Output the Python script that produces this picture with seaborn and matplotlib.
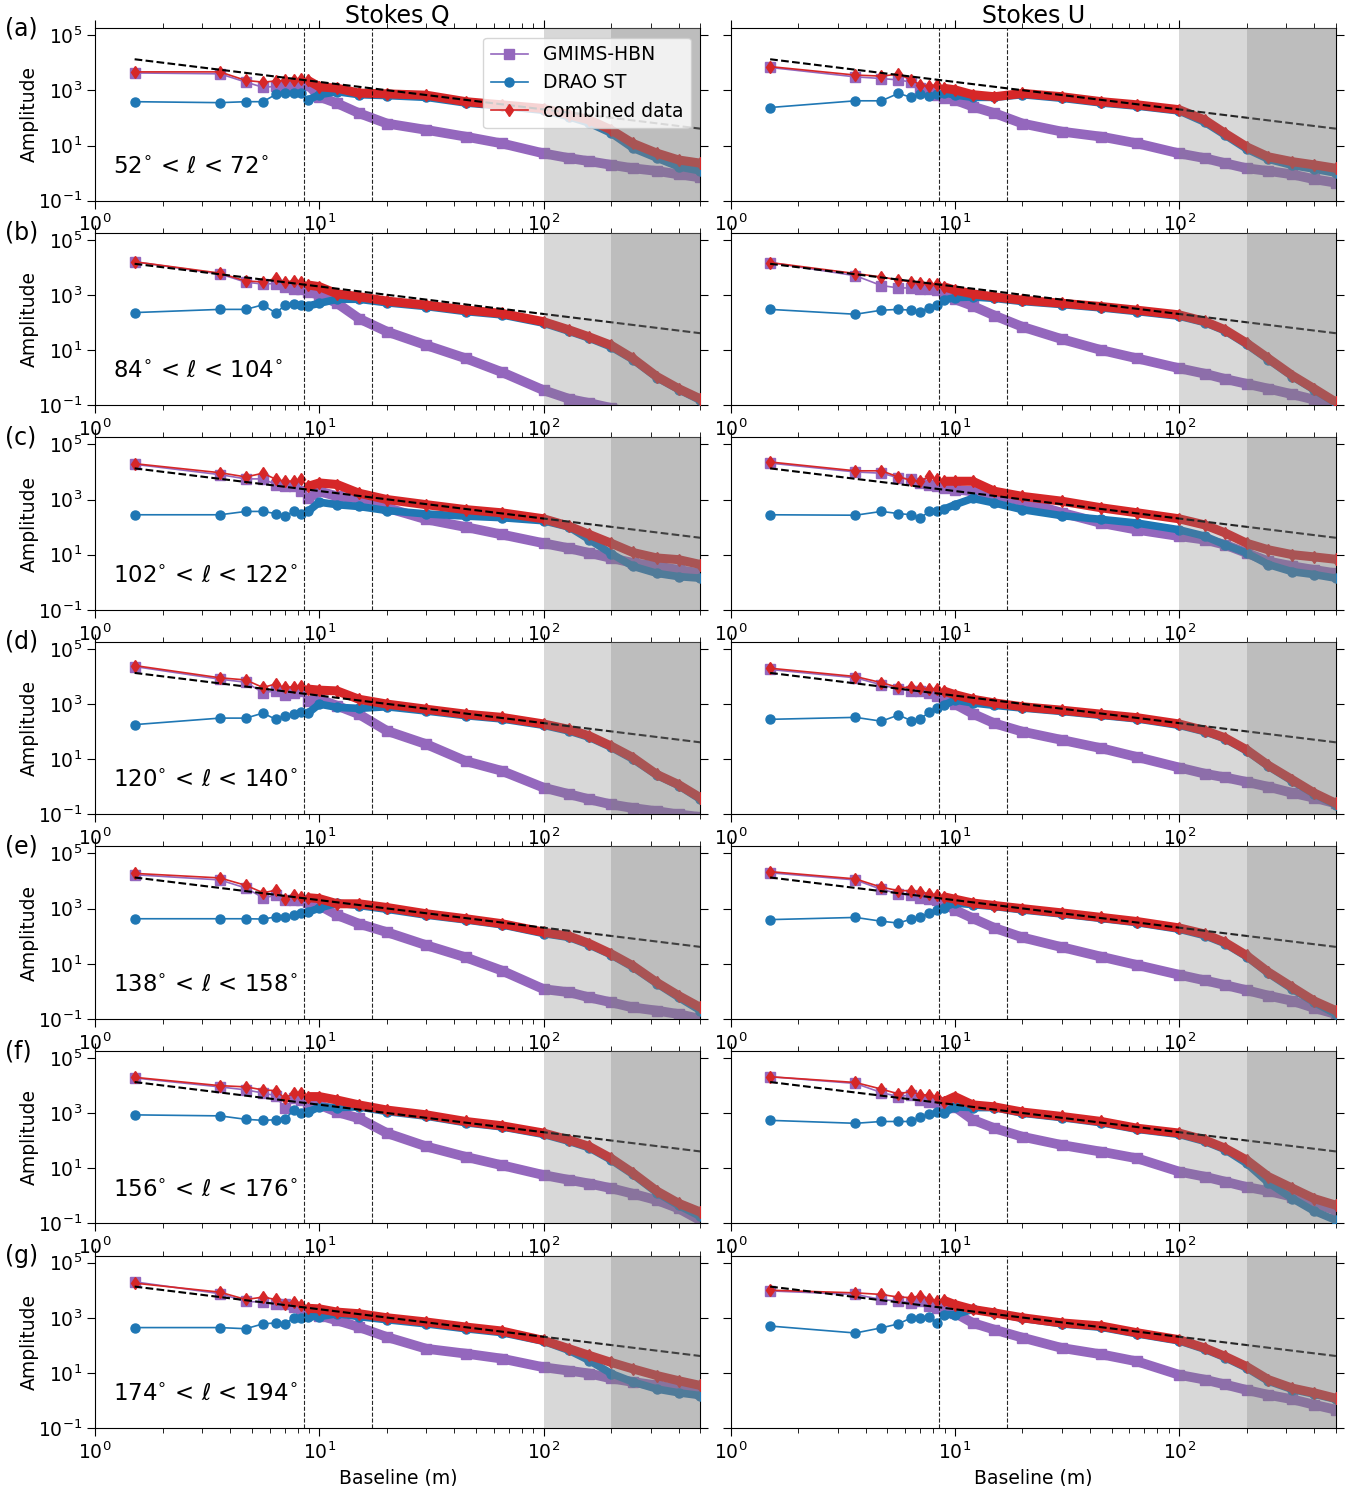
import matplotlib
matplotlib.use('Agg')
import matplotlib.pyplot as plt
import pandas as pd
import seaborn as sns
from matplotlib.ticker import NullLocator

# baselines (m) shared by every panel
baseline = [1.5, 3.6, 4.7, 5.6, 6.4, 7.0, 7.7, 8.3, 8.9, 10, 12, 15, 20, 30, 45, 65,
            100, 130, 160, 200, 250, 320, 400, 500]

# power-law fit drawn as dashed line (end points)
fit_baseline = [1.5, 500]
fit_amp = [1.35e4, 41]

cut_lines = [8.5, 17.1]
lon_ranges = [(52, 72), (84, 104), (102, 122), (120, 140), (138, 158), (156, 176), (174, 194)]
panel_tags = ['(a)', '(b)', '(c)', '(d)', '(e)', '(f)', '(g)']

# ---- Stokes Q ----
q_a_gmims = [4.3e3, 4.0e3, 2.0e3, 1.3e3, 1.4e3, 1.6e3, 1.6e3, 1.8e3, 1.6e3, 590, 340, 150, 63, 37, 21, 12, 5.2, 3.5, 2.7, 2.0, 1.5, 1.2, 0.9, 0.7]
q_a_drao = [390, 360, 390, 390, 720, 820, 820, 820, 450, 700, 900, 700, 650, 560, 350, 270, 190, 110, 65, 28, 8, 3.5, 1.7, 1.2]
q_a_comb = [4.7e3, 4.7e3, 2.3e3, 2.0e3, 2.2e3, 2.3e3, 2.3e3, 2.7e3, 2.3e3, 1.35e3, 1.2e3, 800, 750, 670, 390, 300, 220, 130, 85, 37, 12, 5.3, 3.0, 2.3]

q_b_gmims = [1.6e4, 5.8e3, 2.9e3, 2.5e3, 2.6e3, 2.0e3, 1.7e3, 1.7e3, 1.3e3, 1.0e3, 500, 140, 47, 15, 5, 1.6, 0.35, 0.17, 0.12, 0.08, 0.05, 0.03, 0.02, 0.01]
q_b_drao = [230, 300, 300, 440, 220, 420, 470, 440, 400, 500, 700, 700, 520, 380, 250, 190, 95, 48, 27, 13, 4.5, 1.0, 0.37, 0.15]
q_b_comb = [1.6e4, 6.2e3, 3.2e3, 3.0e3, 4.0e3, 3.0e3, 3.2e3, 3.0e3, 2.3e3, 2.0e3, 1.1e3, 870, 600, 430, 285, 215, 107, 54, 30, 15, 5, 1.1, 0.4, 0.17]

q_c_gmims = [1.9e4, 8e3, 5.6e3, 5.6e3, 3.5e3, 3e3, 3e3, 2e3, 1.1e3, 2e3, 1.3e3, 1.1e3, 500, 190, 100, 54, 26, 17, 11.5, 7.6, 5, 3.8, 2.8, 2.1]
q_c_drao = [280, 280, 370, 370, 310, 250, 370, 310, 370, 800, 650, 560, 400, 300, 250, 220, 170, 100, 35, 11, 3.8, 2.1, 1.6, 1.4]
q_c_comb = [2e4, 9.4e3, 6.6e3, 9e3, 5.4e3, 4.6e3, 4.6e3, 5.4e3, 3e3, 4e3, 3.5e3, 1.7e3, 1e3, 650, 430, 330, 200, 107, 54, 26, 12, 7.6, 6.6, 4.4]

q_d_gmims = [2.3e4, 8e3, 6.2e3, 2.6e3, 3e3, 2.2e3, 2.6e3, 3e3, 1.3e3, 1.5e3, 870, 430, 107, 35, 8.5, 3.8, 0.93, 0.54, 0.35, 0.23, 0.17, 0.13, 0.1, 0.08]
q_d_drao = [180, 310, 310, 470, 280, 370, 440, 500, 470, 1e3, 760, 700, 800, 560, 380, 290, 170, 105, 62, 27, 10, 2.6, 1.1, 0.35]
q_d_comb = [2.5e4, 9e3, 7.5e3, 4e3, 5.4e3, 4e3, 4.3e3, 4.6e3, 3.5e3, 3.2e3, 3e3, 1.5e3, 1e3, 650, 430, 330, 190, 120, 70, 30, 11.5, 2.8, 1.2, 0.4]

q_e_gmims = [1.7e4, 1.1e4, 5.6e3, 2.5e3, 3e3, 2e3, 2e3, 2e3, 1.7e3, 1.3e3, 580, 285, 140, 47, 17, 5.7, 1.2, 0.93, 0.6, 0.4, 0.26, 0.2, 0.15, 0.1]
q_e_drao = [430, 430, 430, 420, 500, 500, 600, 700, 750, 1.05e3, 1.6e3, 1.3e3, 950, 580, 390, 260, 125, 90, 48, 21, 7.5, 1.9, 0.6, 0.2]
q_e_comb = [1.9e4, 1.3e4, 7e3, 3.8e3, 4.6e3, 2.3e3, 3e3, 2.6e3, 2.5e3, 2.3e3, 1.5e3, 1.5e3, 1.1e3, 650, 430, 285, 140, 100, 54, 23, 8.5, 2.1, 0.7, 0.26]

q_f_gmims = [1.9e4, 9e3, 7e3, 5.4e3, 4.3e3, 1.5e3, 3.5e3, 3e3, 2.3e3, 2e3, 1.1e3, 650, 190, 62, 26, 13, 5.7, 3.8, 2.8, 1.9, 1.2, 0.7, 0.35, 0.13]
q_f_drao = [870, 800, 600, 550, 580, 600, 1.3e3, 1e3, 1.1e3, 1.7e3, 1.6e3, 1.7e3, 1.15e3, 780, 450, 320, 170, 95, 55, 20, 6, 1.3, 0.45, 0.18]
q_f_comb = [2e4, 1e4, 9e3, 7e3, 6.6e3, 3.5e3, 5.4e3, 5.4e3, 4e3, 4e3, 3e3, 2e3, 1.3e3, 870, 500, 350, 190, 107, 62, 23, 6.8, 1.5, 0.54, 0.26]

q_g_gmims = [2e4, 7.5e3, 3.9e3, 3.7e3, 3.2e3, 3.2e3, 2.4e3, 1.8e3, 1.6e3, 1.2e3, 800, 460, 200, 75, 50, 33, 16, 12, 9.5, 6.3, 4.7, 3.5, 2.6, 1.9]
q_g_drao = [440, 440, 400, 600, 650, 600, 1e3, 1e3, 1.1e3, 1.1e3, 1.4e3, 1.1e3, 850, 600, 400, 290, 140, 65, 28, 9.5, 4.7, 2.6, 1.9, 1.5]
q_g_comb = [1.8e4, 8.5e3, 4.6e3, 5.6e3, 4.6e3, 3.2e3, 3.7e3, 2.8e3, 2.2e3, 2.1e3, 1.6e3, 1.4e3, 1e3, 700, 460, 330, 150, 75, 43, 24, 14, 8, 5.2, 3.5]

# ---- Stokes U ----
u_a_gmims = [6.8e3, 3.1e3, 2.7e3, 2.4e3, 2.0e3, 1.2e3, 1.0e3, 700, 520, 450, 260, 150, 63, 32, 21, 12, 5.2, 3.5, 2.3, 1.5, 1.2, 0.9, 0.6, 0.45]
u_a_drao = [240, 420, 420, 780, 560, 740, 620, 740, 820, 680, 560, 560, 700, 520, 350, 270, 180, 70, 24, 7.5, 3.2, 1.9, 1.4, 1.0]
u_a_comb = [7.3e3, 3.6e3, 3.3e3, 3.9e3, 2.4e3, 1.6e3, 1.4e3, 1.6e3, 1.2e3, 1.05e3, 700, 590, 780, 590, 390, 300, 200, 85, 28, 9, 3.9, 2.6, 2.0, 1.5]

u_b_gmims = [1.5e4, 5e3, 2.2e3, 1.8e3, 1.8e3, 1.6e3, 1.6e3, 1.5e3, 1.3e3, 700, 400, 180, 70, 25, 10, 5, 2.2, 1.4, 0.9, 0.6, 0.4, 0.25, 0.16, 0.1]
u_b_drao = [300, 200, 280, 300, 280, 250, 350, 450, 650, 800, 850, 750, 580, 450, 340, 250, 170, 100, 50, 16, 4.5, 1.1, 0.36, 0.12]
u_b_comb = [1.5e4, 6e3, 4.5e3, 3.5e3, 3e3, 2.8e3, 2.5e3, 2.5e3, 2e3, 1.5e3, 1.1e3, 850, 650, 500, 380, 280, 190, 110, 55, 18, 5, 1.2, 0.4, 0.13]

u_c_gmims = [2.1e4, 1e4, 9e3, 6.2e3, 5.4e3, 4e3, 3.5e3, 3e3, 2.6e3, 2.3e3, 2e3, 1.5e3, 870, 330, 140, 80, 47, 35, 23, 11.5, 5.7, 3.8, 2.8, 2.1]
u_c_drao = [280, 270, 370, 310, 280, 215, 370, 370, 440, 650, 1.1e3, 750, 430, 260, 190, 140, 80, 47, 23, 11.5, 4.4, 2.4, 1.9, 1.4]
u_c_comb = [2.3e4, 1.1e4, 1.1e4, 6.6e3, 5e3, 4.6e3, 7e3, 5.4e3, 4.6e3, 4.6e3, 4.6e3, 2e3, 1.3e3, 870, 500, 330, 200, 120, 62, 26, 15, 10, 8.3, 6.8]

u_d_gmims = [1.8e4, 9e3, 5e3, 3.5e3, 3e3, 3e3, 2.5e3, 2e3, 1.6e3, 1e3, 450, 200, 100, 50, 25, 12, 5, 3, 2.2, 1.5, 1, 0.6, 0.4, 0.25]
u_d_drao = [280, 330, 240, 400, 250, 300, 500, 700, 900, 1.4e3, 1.1e3, 900, 720, 540, 390, 290, 170, 100, 55, 20, 5.5, 1.6, 0.55, 0.22]
u_d_comb = [2e4, 1e4, 6e3, 4e3, 4e3, 3.8e3, 3.5e3, 3.5e3, 3e3, 2.2e3, 1.5e3, 1.1e3, 800, 600, 430, 320, 190, 110, 60, 22, 6, 1.8, 0.6, 0.25]

u_e_gmims = [2e4, 1.1e4, 5e3, 3.5e3, 3e3, 2.5e3, 2.2e3, 2e3, 1.5e3, 900, 450, 200, 90, 40, 18, 9, 4, 2.5, 1.7, 1.1, 0.7, 0.45, 0.25, 0.15]
u_e_drao = [400, 480, 350, 300, 420, 500, 700, 900, 1.1e3, 1.6e3, 1.4e3, 1.2e3, 900, 640, 440, 310, 180, 105, 54, 18, 4.5, 1.2, 0.4, 0.15]
u_e_comb = [2.2e4, 1.2e4, 6e3, 4.5e3, 4.5e3, 4e3, 3.5e3, 3e3, 2.7e3, 2.2e3, 1.6e3, 1.3e3, 1e3, 700, 480, 340, 200, 120, 60, 20, 5, 1.4, 0.45, 0.2]

u_f_gmims = [2.1e4, 1.2e4, 5.6e3, 4e3, 4.6e3, 3e3, 2.6e3, 2.5e3, 2.3e3, 1.7e3, 580, 285, 140, 70, 40, 23, 7.6, 5, 3.3, 2.1, 1.5, 0.93, 0.54, 0.3]
u_f_drao = [550, 430, 500, 500, 500, 700, 950, 1.1e3, 1e3, 1.7e3, 1.6e3, 1.6e3, 1e3, 690, 450, 260, 170, 95, 48, 15, 3, 0.8, 0.28, 0.13]
u_f_comb = [2.1e4, 1.3e4, 7.5e3, 5e3, 6.2e3, 4.6e3, 4.6e3, 4e3, 2.6e3, 4e3, 2e3, 1.7e3, 1.1e3, 760, 500, 285, 190, 107, 54, 20, 5, 1.9, 0.8, 0.46]

u_g_gmims = [9.4e3, 7e3, 4.6e3, 4e3, 3.5e3, 4e3, 2.6e3, 2.3e3, 2e3, 1.5e3, 650, 370, 190, 80, 47, 26, 8.5, 5.7, 3.8, 2.4, 1.6, 1.1, 0.7, 0.46]
u_g_drao = [500, 280, 430, 600, 1e3, 950, 1.1e3, 650, 1.3e3, 1.3e3, 2e3, 1.5e3, 950, 600, 450, 260, 145, 72, 36, 15, 5, 2.5, 1.7, 1.1]
u_g_comb = [1e4, 8e3, 7e3, 5.6e3, 5.4e3, 6.2e3, 4.6e3, 4e3, 4.3e3, 3e3, 2e3, 1.5e3, 1e3, 650, 500, 285, 160, 80, 40, 17, 5.7, 2.8, 1.9, 1.2]

q_panels = [(q_a_gmims, q_a_drao, q_a_comb), (q_b_gmims, q_b_drao, q_b_comb),
            (q_c_gmims, q_c_drao, q_c_comb), (q_d_gmims, q_d_drao, q_d_comb),
            (q_e_gmims, q_e_drao, q_e_comb), (q_f_gmims, q_f_drao, q_f_comb),
            (q_g_gmims, q_g_drao, q_g_comb)]
u_panels = [(u_a_gmims, u_a_drao, u_a_comb), (u_b_gmims, u_b_drao, u_b_comb),
            (u_c_gmims, u_c_drao, u_c_comb), (u_d_gmims, u_d_drao, u_d_comb),
            (u_e_gmims, u_e_drao, u_e_comb), (u_f_gmims, u_f_drao, u_f_comb),
            (u_g_gmims, u_g_drao, u_g_comb)]

# label, colour, marker, zorder, band width
series_style = [('GMIMS-HBN', 'tab:purple', 's', 2, 7.0),
                ('DRAO ST', 'tab:blue', 'o', 3, 5.5),
                ('combined data', 'tab:red', 'd', 4, 6.5)]


def draw_panel(ax, values):
    ax.set_xscale('log')
    ax.set_yscale('log')
    for (label, col, mk, z, bw), amp in zip(series_style, values):
        df = pd.DataFrame({'baseline': baseline, 'amp': amp})
        sns.lineplot(data=df, x='baseline', y='amp', ax=ax, color=col, marker=mk,
                     markersize=6.5, markeredgecolor=col, markeredgewidth=1,
                     linewidth=1.2, estimator=None, sort=False, label=label, zorder=z)
        # the densely sampled part looks like a thick band
        dense = df[df['baseline'] >= 8.9]
        ax.plot(dense['baseline'], dense['amp'], color=col, lw=bw, zorder=z,
                solid_capstyle='butt', solid_joinstyle='round')
    ax.plot(fit_baseline, fit_amp, color='k', ls='--', lw=1.5, zorder=4.5)
    for xv in cut_lines:
        ax.axvline(xv, color='k', ls='--', lw=0.8, alpha=0.85, zorder=6)
    ax.axvspan(100, 500, color='gray', alpha=0.3, lw=0, zorder=5)
    ax.axvspan(200, 500, color='gray', alpha=0.3, lw=0, zorder=5)
    ax.set_xlim(1, 500)
    ax.set_ylim(0.1, 1.8e5)
    ax.set_yticks([1e-1, 1e1, 1e3, 1e5])
    ax.yaxis.set_minor_locator(NullLocator())
    ax.tick_params(which='both', top=True, right=True, labelsize=13.5)
    ax.tick_params(which='major', length=6)
    ax.tick_params(which='minor', length=3.5)
    ax.set_xlabel('')
    ax.set_ylabel('')
    leg = ax.get_legend()
    if leg is not None:
        leg.remove()


fig, axes = plt.subplots(7, 2, figsize=(13.59, 14.86), dpi=100)
plt.subplots_adjust(left=0.07, right=0.983, top=0.981, bottom=0.039,
                    wspace=0.05, hspace=0.186)

for i in range(7):
    axq, axu = axes[i]
    draw_panel(axq, q_panels[i])
    draw_panel(axu, u_panels[i])
    axu.tick_params(labelleft=False)
    axq.set_ylabel('Amplitude', fontsize=13.5, labelpad=-1)
    lo, hi = lon_ranges[i]
    axq.text(0.03, 0.2, f'{lo}$^{{\\circ}}$ < $\\ell$ < {hi}$^{{\\circ}}$',
             transform=axq.transAxes, fontsize=16.5, va='center', zorder=7)
    axq.text(-0.149, 1.0, panel_tags[i], transform=axq.transAxes, fontsize=17,
             va='center', ha='left')

axes[0, 0].set_title('Stokes Q', fontsize=17, pad=1)
axes[0, 1].set_title('Stokes U', fontsize=17, pad=1)
axes[6, 0].set_xlabel('Baseline (m)', fontsize=13.5)
axes[6, 1].set_xlabel('Baseline (m)', fontsize=13.5)

handles, labels = axes[0, 0].get_legend_handles_labels()
axes[0, 0].legend(handles[:3], labels[:3], loc='upper right', fontsize=13.5).set_zorder(10)

fig.savefig('out.png', dpi=100)
